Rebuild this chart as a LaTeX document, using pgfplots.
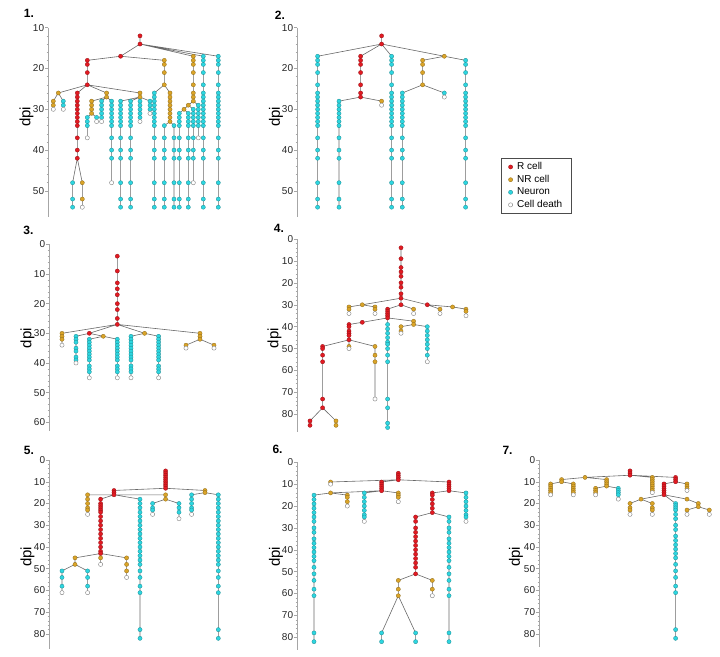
\documentclass[border=0pt]{standalone}
\usepackage{fontspec}
\setmainfont{Liberation Sans}
\usepackage{pgfplots}
\pgfplotsset{compat=1.18}
\definecolor{rc}{RGB}{226,26,34}
\definecolor{oc}{RGB}{218,164,40}
\definecolor{cc}{RGB}{45,214,224}
\definecolor{lc}{RGB}{105,105,105}
\pgfplotsset{
 panel/.style={anchor=north west, scale only axis, width=175pt, xmin=0, xmax=175, y dir=reverse, clip=false,
   axis x line=none, axis y line*=left, xtick=\empty, unbounded coords=jump, tick align=outside,
   minor y tick num=4, major tick length=3pt, minor tick length=1.6pt,
   tick style={gray!70, line width=0.5pt}, axis line style={gray!70, line width=0.6pt},
   yticklabel style={font=\fontsize{10}{12}\selectfont, text=black!85, inner sep=1pt},
   /pgf/number format/assume math mode=true},
 ln/.style={lc, line width=0.6pt, mark=none},
 mR/.style={only marks, mark=*, mark size=2.1pt, mark options={fill=rc, draw=rc!65!black, line width=0.3pt}},
 mO/.style={only marks, mark=*, mark size=2.1pt, mark options={fill=oc, draw=oc!65!black, line width=0.3pt}},
 mC/.style={only marks, mark=*, mark size=2.1pt, mark options={fill=cc, draw=cc!65!black, line width=0.3pt}},
 mW/.style={only marks, mark=*, mark size=2.1pt, mark options={fill=white, draw=gray, line width=0.4pt}},
}
\begin{document}
\begin{tikzpicture}
\useasboundingbox (0,0) rectangle (720pt,-656pt);
%% ---------- Panel 1
\begin{axis}[panel, at={(48.3pt,-27.7pt)}, height=189.7pt, ymin=10, ymax=56.5, ytick={10,20,30,40,50}]
\addplot[ln] coordinates {
(91.7,12)(91.7,14)(nan,nan)
(91.7,14)(72.3,17)(nan,nan)
(72.3,17)(39,18)(39,24)(nan,nan)
(72.3,17)(116,18)(116,24)(nan,nan)
(39,24)(10,26)(nan,nan)
(10,26)(5,28)(5,30)(nan,nan)
(10,26)(15,28)(15,30)(nan,nan)
(39,24)(29,26)(29,42)(nan,nan)
(29,42)(24.3,48)(24.3,54)(nan,nan)
(29,42)(34,48)(34,54)(nan,nan)
(39,24)(58.3,26)(58.3,27)(nan,nan)
(58.3,27)(43.3,28)(43.3,31)(nan,nan)
(43.3,31)(39,32)(39,37)(nan,nan)
(43.3,31)(48.3,32)(48.3,33)(nan,nan)
(58.3,27)(53.3,28)(53.3,33)(nan,nan)
(58.3,27)(63.3,28)(63.3,48)(nan,nan)
(39,24)(91.7,26)(91.7,27)(nan,nan)
(91.7,27)(72.3,28)(72.3,54)(nan,nan)
(91.7,27)(82.3,28)(82.3,54)(nan,nan)
(91.7,27)(91.7,28)(91.7,33)(nan,nan)
(91.7,27)(101.7,28)(101.7,31)(nan,nan)
(116,24)(106,26)(106,54)(nan,nan)
(116,24)(121.7,26)(121.7,33)(nan,nan)
(121.7,33)(116,34)(116,54)(nan,nan)
(121.7,33)(125.7,34)(125.7,54)(nan,nan)
(91.7,14)(145,17)(145,28)(nan,nan)
(145,28)(140,29)(nan,nan)
(145,28)(150,29)(150,37)(nan,nan)
(140,29)(135.7,30)(nan,nan)
(140,29)(145,30)(145,48)(nan,nan)
(135.7,30)(131,31)(131,54)(nan,nan)
(135.7,30)(140,31)(140,54)(nan,nan)
(91.7,14)(155,17)(155,54)(nan,nan)
(91.7,14)(170,17)(170,54)
};
\addplot[mR] coordinates {(91.7,12)(91.7,14)(72.3,17)(39,18)(39,19)(39,21)(39,24)
(29,26)(29,27)(29,28)(29,29)(29,30)(29,31)(29,32)(29,33)(29,34)(29,37)(29,40)(29,42)};
\addplot[mO] coordinates {(116,18)(116,19)(116,21)(116,24)(10,26)(5,28)(5,29)(34,48)(34,52)
(58.3,26)(58.3,27)(43.3,28)(43.3,29)(43.3,30)(43.3,31)(91.7,26)(91.7,27)
(121.7,26)(121.7,27)(121.7,28)(121.7,29)(121.7,30)(121.7,31)(121.7,32)(121.7,33)
(145,17)(145,18)(145,19)(145,21)(145,24)(145,26)(145,27)(145,28)(140,29)(135.7,30)};
\addplot[mC] coordinates {(15,28)(15,29)(24.3,48)(24.3,52)(24.3,54)(39,32)(39,33)(39,34)(48.3,32)
(53.3,28)(53.3,29)(53.3,30)(53.3,31)(53.3,32)
(63.3,28)(63.3,29)(63.3,30)(63.3,31)(63.3,32)(63.3,33)(63.3,34)(63.3,37)(63.3,40)(63.3,42)
(72.3,28)(72.3,29)(72.3,30)(72.3,31)(72.3,32)(72.3,33)(72.3,34)(72.3,37)(72.3,40)(72.3,42)(72.3,48)(72.3,52)(72.3,54)
(82.3,28)(82.3,29)(82.3,30)(82.3,31)(82.3,32)(82.3,33)(82.3,34)(82.3,37)(82.3,40)(82.3,42)(82.3,48)(82.3,52)(82.3,54)
(91.7,28)(91.7,29)(91.7,30)(91.7,31)(91.7,32)(101.7,28)(101.7,29)(101.7,30)
(106,26)(106,27)(106,28)(106,29)(106,30)(106,31)(106,32)(106,33)(106,34)(106,37)(106,40)(106,42)(106,48)(106,52)(106,54)
(116,34)(116,37)(116,40)(116,42)(116,48)(116,52)(116,54)
(125.7,34)(125.7,37)(125.7,40)(125.7,42)(125.7,48)(125.7,52)(125.7,54)
(131,31)(131,32)(131,33)(131,34)(131,37)(131,40)(131,42)(131,48)(131,52)(131,54)
(140,31)(140,32)(140,33)(140,34)(140,37)(140,40)(140,42)(140,48)(140,52)(140,54)
(145,30)(145,31)(145,32)(145,33)(145,34)(145,37)(145,40)(145,42)
(150,29)(150,30)(150,31)(150,32)(150,33)(150,34)
(155,17)(155,18)(155,19)(155,21)(155,24)(155,26)(155,27)(155,28)(155,29)(155,30)(155,31)(155,32)(155,33)(155,34)(155,37)(155,40)(155,42)(155,48)(155,52)(155,54)
(170,17)(170,18)(170,19)(170,21)(170,24)(170,26)(170,27)(170,28)(170,29)(170,30)(170,31)(170,32)(170,33)(170,34)(170,37)(170,40)(170,42)(170,48)(170,52)(170,54)};
\addplot[mW] coordinates {(5,30)(15,30)(34,54)(39,37)(48.3,33)(53.3,33)(63.3,48)(91.7,33)(101.7,31)(150,37)(145,48)};
\end{axis}
%% ---------- Panel 2
\begin{axis}[panel, at={(297.3pt,-27.7pt)}, height=189.7pt, ymin=10, ymax=56.5, ytick={10,20,30,40,50}]
\addplot[ln] coordinates {
(84.3,12)(84.3,14)(nan,nan)
(84.3,14)(20.3,17)(20.3,54)(nan,nan)
(84.3,14)(63.3,17)(63.3,27)(nan,nan)
(63.3,27)(41.7,28)(41.7,54)(nan,nan)
(63.3,27)(84.3,28)(84.3,29)(nan,nan)
(84.3,14)(94.3,17)(94.3,54)(nan,nan)
(84.3,14)(147,17)(nan,nan)
(147,17)(125.3,18)(125.3,24)(nan,nan)
(147,17)(168.3,18)(168.3,54)(nan,nan)
(125.3,24)(105,26)(105,54)(nan,nan)
(125.3,24)(147,26)(147,27)
};
\addplot[mR] coordinates {(84.3,12)(84.3,14)(63.3,17)(63.3,18)(63.3,19)(63.3,21)(63.3,24)(63.3,26)(63.3,27)};
\addplot[mO] coordinates {(84.3,28)(147,17)(125.3,18)(125.3,19)(125.3,21)(125.3,24)};
\addplot[mC] coordinates {
(20.3,17)(20.3,18)(20.3,19)(20.3,21)(20.3,24)(20.3,26)(20.3,27)(20.3,28)(20.3,29)(20.3,30)(20.3,31)(20.3,32)(20.3,33)(20.3,34)(20.3,37)(20.3,40)(20.3,42)(20.3,48)(20.3,52)(20.3,54)
(41.7,28)(41.7,29)(41.7,30)(41.7,31)(41.7,32)(41.7,33)(41.7,34)(41.7,37)(41.7,40)(41.7,42)(41.7,48)(41.7,52)(41.7,54)
(94.3,17)(94.3,18)(94.3,19)(94.3,21)(94.3,24)(94.3,26)(94.3,27)(94.3,28)(94.3,29)(94.3,30)(94.3,31)(94.3,32)(94.3,33)(94.3,34)(94.3,37)(94.3,40)(94.3,42)(94.3,48)(94.3,52)(94.3,54)
(168.3,18)(168.3,19)(168.3,21)(168.3,24)(168.3,26)(168.3,27)(168.3,28)(168.3,29)(168.3,30)(168.3,31)(168.3,32)(168.3,33)(168.3,34)(168.3,37)(168.3,40)(168.3,42)(168.3,48)(168.3,52)(168.3,54)
(105,26)(105,27)(105,28)(105,29)(105,30)(105,31)(105,32)(105,33)(105,34)(105,37)(105,40)(105,42)(105,48)(105,52)(105,54)
(147,26)};
\addplot[mW] coordinates {(84.3,29)(147,27)};
\end{axis}
%% ---------- Panel 3
\begin{axis}[panel, at={(49.3pt,-244.3pt)}, height=186.9pt, ymin=0, ymax=63, ytick={0,10,...,60}]
\addplot[ln] coordinates {
(68,4)(68,27)(nan,nan)
(68,27)(12.7,30)(12.7,34)(nan,nan)
(68,27)(40,30)(nan,nan)
(40,30)(26.7,31)(26.7,40)(nan,nan)
(40,30)(54,31)(nan,nan)
(54,31)(40,32)(40,45)(nan,nan)
(54,31)(68,32)(68,45)(nan,nan)
(68,27)(95.3,30)(nan,nan)
(95.3,30)(81.7,31)(81.7,45)(nan,nan)
(95.3,30)(109.3,31)(109.3,45)(nan,nan)
(68,27)(150.7,30)(150.7,32)(nan,nan)
(150.7,32)(136.7,34)(136.7,35)(nan,nan)
(150.7,32)(164.7,34)(164.7,35)
};
\addplot[mR] coordinates {(68,4)(68,9)(68,13)(68,15)(68,17)(68,20)(68,22)(68,25)(68,27)(40,30)};
\addplot[mO] coordinates {(12.7,30)(12.7,31)(12.7,32)(54,31)(95.3,30)(150.7,30)(150.7,31)(150.7,32)(136.7,34)(164.7,34)};
\addplot[mC] coordinates {
(26.7,31)(26.7,32)(26.7,33)(26.7,35)(26.7,36)(26.7,38)(26.7,39)
(40,32)(40,33)(40,34)(40,35)(40,36)(40,37)(40,38)(40,39)(40,41)(40,42)(40,43)
(68,32)(68,33)(68,34)(68,35)(68,36)(68,37)(68,38)(68,39)(68,41)(68,42)(68,43)
(81.7,31)(81.7,32)(81.7,33)(81.7,34)(81.7,35)(81.7,36)(81.7,37)(81.7,38)(81.7,39)(81.7,41)(81.7,42)(81.7,43)
(109.3,31)(109.3,32)(109.3,33)(109.3,34)(109.3,35)(109.3,36)(109.3,37)(109.3,38)(109.3,39)(109.3,41)(109.3,42)(109.3,43)};
\addplot[mW] coordinates {(12.7,34)(26.7,40)(40,45)(68,45)(81.7,45)(109.3,45)(136.7,35)(164.7,35)};
\end{axis}
%% ---------- Panel 4
\begin{axis}[panel, at={(297.3pt,-239pt)}, height=192.9pt, ymin=0, ymax=88, ytick={0,10,...,80}]
\addplot[ln] coordinates {
(103.7,4)(103.7,27)(nan,nan)
(103.7,27)(65,30)(nan,nan)
(65,30)(51.7,31)(51.7,34)(nan,nan)
(65,30)(77.7,31)(77.7,34)(nan,nan)
(103.7,27)(103.7,30)(nan,nan)
(103.7,30)(90.3,32)(90.3,36)(nan,nan)
(103.7,30)(116.3,32)(116.3,34)(nan,nan)
(103.7,27)(130,30)(nan,nan)
(130,30)(142.7,32)(142.7,34)(nan,nan)
(130,30)(155.3,31)(168.7,32)(168.7,35)(nan,nan)
(90.3,36)(65,38)(51.7,39)(51.7,46)(nan,nan)
(90.3,36)(90.3,39)(90.3,86)(nan,nan)
(90.3,36)(116.3,37.5)(116.3,39)(nan,nan)
(116.3,39)(103.7,40)(103.7,43)(nan,nan)
(116.3,39)(130,40)(130,56)(nan,nan)
(51.7,46)(25.3,49)(25.3,77)(nan,nan)
(25.3,77)(12.7,83)(12.7,85)(nan,nan)
(25.3,77)(38.7,83)(38.7,85)(nan,nan)
(51.7,46)(51.7,49)(51.7,50)(nan,nan)
(51.7,46)(77.7,49)(77.7,73)
};
\addplot[mR] coordinates {(103.7,4)(103.7,9)(103.7,13)(103.7,15)(103.7,17)(103.7,20)(103.7,22)(103.7,25)(103.7,27)(103.7,30)
(130,30)(90.3,32)(90.3,33)(90.3,34)(90.3,35)(90.3,36)(65,38)
(51.7,39)(51.7,40)(51.7,42)(51.7,43)(51.7,44)(51.7,46)
(25.3,49)(25.3,50)(25.3,53)(25.3,56)(25.3,73)(25.3,77)(12.7,83)(12.7,85)};
\addplot[mO] coordinates {(65,30)(51.7,31)(51.7,32)(77.7,31)(77.7,32)(116.3,32)(142.7,32)(155.3,31)(168.7,32)(168.7,33)
(116.3,37.5)(116.3,39)(103.7,40)(103.7,42)(51.7,49)(77.7,49)(77.7,53)(77.7,56)(38.7,83)(38.7,85)};
\addplot[mC] coordinates {(90.3,39)(90.3,41)(90.3,43)(90.3,45)(90.3,47)(90.3,48)(90.3,50)(90.3,53)(90.3,56)(90.3,73)(90.3,77)(90.3,84)(90.3,86)
(130,40)(130,42)(130,44)(130,46)(130,48)(130,50)(130,53)};
\addplot[mW] coordinates {(51.7,34)(77.7,34)(116.3,34)(142.7,34)(168.7,35)(103.7,43)(130,56)(51.7,50)(77.7,73)};
\end{axis}
%% ---------- Panel 5
\begin{axis}[panel, at={(49.3pt,-460pt)}, height=189.2pt, ymin=0, ymax=87, ytick={0,10,...,80}]
\addplot[ln] coordinates {
(116.3,5)(116.3,13)(nan,nan)
(116.3,13)(64.7,14)(64.7,16)(nan,nan)
(116.3,13)(155.7,14)(155.7,15)(nan,nan)
(64.7,16)(38.3,16)(38.3,25)(nan,nan)
(64.7,16)(51.3,18)(51.3,43)(nan,nan)
(64.7,16)(90.7,18)(90.7,82)(nan,nan)
(64.7,16)(116.3,16)(116.3,18)(nan,nan)
(116.3,18)(103.3,20)(103.3,25)(nan,nan)
(116.3,18)(129.7,20)(129.7,27)(nan,nan)
(51.3,43)(25.7,45)(25.7,48)(nan,nan)
(25.7,48)(12.7,51)(12.7,61)(nan,nan)
(25.7,48)(38.3,51)(38.3,61)(nan,nan)
(51.3,43)(51.3,45)(51.3,48)(nan,nan)
(51.3,43)(77.3,45)(77.3,54)(nan,nan)
(155.7,15)(142.3,16)(142.3,25)(nan,nan)
(155.7,15)(169,16)(169,82)
};
\addplot[mR] coordinates {(116.3,5)(116.3,6)(116.3,7)(116.3,8)(116.3,9)(116.3,10)(116.3,11)(116.3,12)(116.3,13)
(64.7,14)(64.7,15)(64.7,16)
(51.3,18)(51.3,20)(51.3,21)(51.3,22)(51.3,23)(51.3,24)(51.3,26)(51.3,28)(51.3,30)(51.3,32)(51.3,34)(51.3,36)(51.3,38)(51.3,40)(51.3,42)(51.3,43)};
\addplot[mO] coordinates {(155.7,14)(155.7,15)(38.3,16)(38.3,18)(38.3,20)(38.3,22)(38.3,23)(116.3,16)(116.3,18)
(25.7,45)(25.7,48)(51.3,45)(77.3,45)(77.3,48)(77.3,51)};
\addplot[mC] coordinates {
(90.7,18)(90.7,20)(90.7,22)(90.7,24)(90.7,26)(90.7,28)(90.7,30)(90.7,32)(90.7,34)(90.7,36)(90.7,38)(90.7,40)(90.7,42)(90.7,44)(90.7,46)(90.7,48)(90.7,51)(90.7,54)(90.7,58)(90.7,61)(90.7,78)(90.7,82)
(103.3,20)(103.3,22)(103.3,23)(129.7,20)(129.7,22)(129.7,24)
(12.7,51)(12.7,54)(12.7,58)(38.3,51)(38.3,54)(38.3,58)
(142.3,16)(142.3,18)(142.3,20)(142.3,22)(142.3,23)
(169,16)(169,18)(169,20)(169,22)(169,24)(169,26)(169,28)(169,30)(169,32)(169,34)(169,36)(169,38)(169,40)(169,42)(169,44)(169,46)(169,48)(169,51)(169,54)(169,58)(169,61)(169,78)(169,82)};
\addplot[mW] coordinates {(38.3,25)(103.3,25)(129.7,27)(12.7,61)(38.3,61)(51.3,48)(77.3,54)(142.3,25)};
\end{axis}
%% ---------- Panel 6
\begin{axis}[panel, at={(297.3pt,-462.3pt)}, height=188.1pt, ymin=0, ymax=86, ytick={0,10,...,80}]
\addplot[ln] coordinates {
(101,5)(101,8)(nan,nan)
(101,8)(33.3,9)(33.3,10)(nan,nan)
(101,8)(84.3,9)(84.3,13)(nan,nan)
(101,8)(151.7,9)(151.7,13)(nan,nan)
(84.3,13)(33.3,14)(nan,nan)
(33.3,14)(16.7,15)(16.7,82)(nan,nan)
(33.3,14)(50,15)(50,20)(nan,nan)
(84.3,13)(67,14)(67,27)(nan,nan)
(84.3,13)(101,14)(101,18)(nan,nan)
(151.7,13)(135,14)(135,23)(nan,nan)
(151.7,13)(168.7,14)(168.7,27)(nan,nan)
(135,23)(118.3,25)(118.3,51)(nan,nan)
(135,23)(151.7,25)(151.7,82)(nan,nan)
(118.3,51)(101,54)(101,61)(nan,nan)
(101,61)(84.3,78)(84.3,82)(nan,nan)
(101,61)(118.3,78)(118.3,82)(nan,nan)
(118.3,51)(135,54)(135,61)
};
\addplot[mR] coordinates {(101,5)(101,6)(101,7)(101,8)(84.3,9)(84.3,10)(84.3,11)(84.3,12)(84.3,13)
(151.7,9)(151.7,10)(151.7,11)(151.7,12)(151.7,13)(135,14)(135,15)(135,17)(135,19)(135,21)(135,23)
(118.3,25)(118.3,27)(118.3,30)(118.3,32)(118.3,34)(118.3,36)(118.3,38)(118.3,40)(118.3,42)(118.3,44)(118.3,46)(118.3,48)(118.3,51)};
\addplot[mO] coordinates {(33.3,9)(33.3,14)(50,15)(50,16)(50,18)(101,14)(101,15)(101,16)(101,54)(101,58)(101,61)(135,54)(135,58)};
\addplot[mC] coordinates {
(16.7,15)(16.7,17)(16.7,19)(16.7,21)(16.7,23)(16.7,25)(16.7,27)(16.7,30)(16.7,32)(16.7,35)(16.7,37)(16.7,39)(16.7,41)(16.7,43)(16.7,45)(16.7,48)(16.7,51)(16.7,54)(16.7,58)(16.7,61)(16.7,78)(16.7,82)
(67,14)(67,16)(67,18)(67,20)(67,22)(67,24)(67,25)
(168.7,14)(168.7,16)(168.7,18)(168.7,20)(168.7,22)(168.7,24)(168.7,25)
(151.7,25)(151.7,27)(151.7,30)(151.7,32)(151.7,35)(151.7,37)(151.7,39)(151.7,41)(151.7,43)(151.7,45)(151.7,48)(151.7,51)(151.7,54)(151.7,58)(151.7,61)(151.7,78)(151.7,82)
(84.3,78)(84.3,82)(118.3,78)(118.3,82)};
\addplot[mW] coordinates {(33.3,10)(50,20)(67,27)(101,18)(168.7,27)(135,61)};
\end{axis}
%% ---------- Panel 7
\begin{axis}[panel, at={(539.3pt,-460pt)}, height=187pt, ymin=0, ymax=86, ytick={0,10,...,80}]
\addplot[ln] coordinates {
(90.7,5)(90.7,7)(nan,nan)
(90.7,7)(45.7,8)(nan,nan)
(90.7,7)(113,8)(113,15)(nan,nan)
(90.7,7)(136.3,8)(136.3,10)(nan,nan)
(45.7,8)(22.3,9)(22.3,10)(nan,nan)
(45.7,8)(67.3,9)(67.3,12)(nan,nan)
(22.3,10)(11.3,11)(11.3,16)(nan,nan)
(22.3,10)(34,11)(34,16)(nan,nan)
(67.3,12)(56.3,13)(56.3,16)(nan,nan)
(67.3,12)(79,13)(79,18)(nan,nan)
(136.3,10)(124.7,11)(124.7,16)(nan,nan)
(136.3,10)(147.7,11)(147.7,14)(nan,nan)
(124.7,16)(101.7,18)(nan,nan)
(124.7,16)(147.7,18)(nan,nan)
(124.7,16)(136.3,20)(136.3,82)(nan,nan)
(101.7,18)(90.7,20)(90.7,25)(nan,nan)
(101.7,18)(113,20)(113,25)(nan,nan)
(147.7,18)(159,20)(159,21.5)(nan,nan)
(159,21.5)(147.7,23)(147.7,25)(nan,nan)
(159,21.5)(170,23)(170,25)
};
\addplot[mR] coordinates {(90.7,5)(90.7,6)(90.7,7)(136.3,8)(136.3,9)(136.3,10)
(124.7,11)(124.7,12)(124.7,13)(124.7,14)(124.7,15)(124.7,16)};
\addplot[mO] coordinates {(45.7,8)(113,8)(113,9)(113,10)(113,11)(113,12)(113,13)(113,14)
(22.3,9)(22.3,10)(67.3,9)(67.3,10)(67.3,11)(67.3,12)
(11.3,11)(11.3,12)(11.3,13)(11.3,14)(11.3,15)(34,11)(34,12)(34,13)(34,14)(34,15)
(56.3,13)(56.3,14)(56.3,15)(147.7,11)(147.7,12)(147.7,13)(101.7,18)(147.7,18)
(90.7,20)(90.7,22)(90.7,23)(113,20)(113,22)(113,23)(159,20)(159,21.5)(147.7,23)(170,23)};
\addplot[mC] coordinates {(79,13)(79,14)(79,15)(79,16)
(136.3,20)(136.3,21)(136.3,22)(136.3,23)(136.3,25)(136.3,27)(136.3,30)(136.3,32)(136.3,35)(136.3,37)(136.3,39)(136.3,41)(136.3,43)(136.3,45)(136.3,48)(136.3,51)(136.3,54)(136.3,58)(136.3,61)(136.3,78)(136.3,82)};
\addplot[mW] coordinates {(11.3,16)(34,16)(56.3,16)(79,18)(113,15)(147.7,14)(90.7,25)(113,25)(147.7,25)(170,25)};
\end{axis}
%% ---------- Legend
\begin{axis}[at={(500.7pt,-158.3pt)}, anchor=north west, hide axis, scale only axis, width=1pt, height=1pt,
  xmin=0, xmax=1, ymin=0, ymax=1,
  legend cell align=left,
  legend image code/.code={\draw[#1] plot coordinates {(0cm,0cm)};},
  legend style={at={(0,1)}, anchor=north west, draw=black!70, line width=0.6pt, font=\fontsize{10}{11}\selectfont,
    inner xsep=7.5pt, inner ysep=2pt, row sep=0pt, column sep=2.5pt}]
\addlegendimage{mR}\addlegendentry{R cell}
\addlegendimage{mO}\addlegendentry{NR cell}
\addlegendimage{mC}\addlegendentry{Neuron}
\addlegendimage{mW}\addlegendentry{Cell death\hspace{15pt}}
\end{axis}
%% ---------- Panel numbers and axis titles
\begin{scope}[every node/.style={font=\bfseries\fontsize{12}{14}\selectfont}]
\node at (29pt,-13.5pt) {1.};
\node at (280pt,-15pt) {2.};
\node at (28.5pt,-230pt) {3.};
\node at (279pt,-228.5pt) {4.};
\node at (29pt,-450pt) {5.};
\node at (277.5pt,-449.5pt) {6.};
\node at (507.5pt,-450pt) {7.};
\end{scope}
\begin{scope}[every node/.style={font=\fontsize{15}{17}\selectfont, rotate=90}]
\node at (26.5pt,-116.7pt) {dpi};
\node at (276pt,-116.7pt) {dpi};
\node at (27.5pt,-338pt) {dpi};
\node at (274.5pt,-338.3pt) {dpi};
\node at (27.5pt,-556.7pt) {dpi};
\node at (276pt,-556.7pt) {dpi};
\node at (516pt,-556.7pt) {dpi};
\end{scope}
\end{tikzpicture}
\end{document}
